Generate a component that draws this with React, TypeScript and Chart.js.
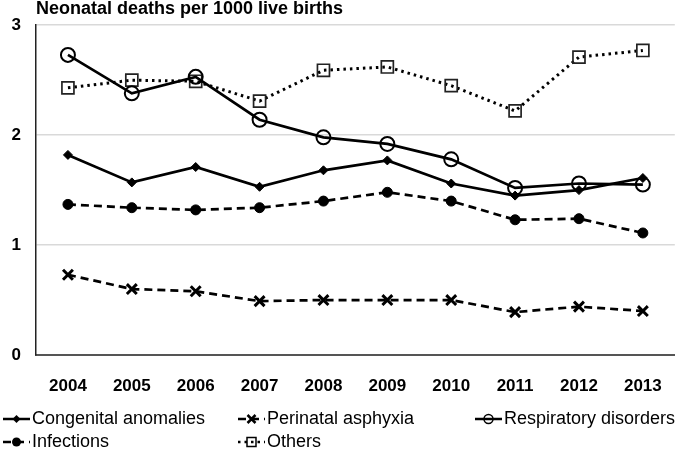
import { useEffect, useRef } from 'react';
import { Chart, registerables } from 'chart.js';

Chart.register(...registerables);

const years = ['2004', '2005', '2006', '2007', '2008', '2009', '2010', '2011', '2012', '2013'];
const congenitalAnomalies = [1.82, 1.57, 1.71, 1.53, 1.68, 1.77, 1.56, 1.45, 1.5, 1.61];
const perinatalAsphyxia = [0.73, 0.6, 0.58, 0.49, 0.5, 0.5, 0.5, 0.39, 0.44, 0.4];
const respiratoryDisorders = [2.73, 2.38, 2.53, 2.14, 1.98, 1.92, 1.78, 1.52, 1.56, 1.55];
const infections = [1.37, 1.34, 1.32, 1.34, 1.4, 1.48, 1.4, 1.23, 1.24, 1.11];
const others = [2.43, 2.5, 2.49, 2.31, 2.59, 2.62, 2.45, 2.22, 2.71, 2.77];
const yTicks = [0, 1, 2, 3];
const titleText = 'Neonatal deaths per 1000 live births';

const FONT = '"Liberation Sans", Arial, sans-serif';
const DASHED = [8, 5];
const DOTTED = [2.5, 4];

type Marker = 'diamond' | 'cross' | 'openCircle' | 'dot' | 'square';
const legendItems: { label: string; dash: number[]; marker: Marker; col: number; row: number }[] = [
  { label: 'Congenital anomalies', dash: [], marker: 'diamond', col: 0, row: 0 },
  { label: 'Perinatal asphyxia', dash: DASHED, marker: 'cross', col: 1, row: 0 },
  { label: 'Respiratory disorders', dash: [], marker: 'openCircle', col: 2, row: 0 },
  { label: 'Infections', dash: DASHED, marker: 'dot', col: 0, row: 1 },
  { label: 'Others', dash: DOTTED, marker: 'square', col: 1, row: 1 },
];
const legendCols = [3, 238, 475];
const legendRows = [419, 442];

function drawMarker(ctx: CanvasRenderingContext2D, x: number, y: number, m: Marker) {
  ctx.save();
  ctx.setLineDash([]);
  ctx.fillStyle = '#000';
  ctx.strokeStyle = '#000';
  ctx.beginPath();
  if (m === 'diamond') {
    ctx.moveTo(x, y - 4);
    ctx.lineTo(x + 4, y);
    ctx.lineTo(x, y + 4);
    ctx.lineTo(x - 4, y);
    ctx.closePath();
    ctx.fill();
  } else if (m === 'cross') {
    ctx.lineWidth = 2.5;
    ctx.moveTo(x - 4, y - 4);
    ctx.lineTo(x + 4, y + 4);
    ctx.moveTo(x + 4, y - 4);
    ctx.lineTo(x - 4, y + 4);
    ctx.stroke();
  } else if (m === 'openCircle') {
    ctx.lineWidth = 1.5;
    ctx.arc(x, y, 4.5, 0, Math.PI * 2);
    ctx.stroke();
  } else if (m === 'dot') {
    ctx.arc(x, y, 4.5, 0, Math.PI * 2);
    ctx.fill();
  } else {
    ctx.lineWidth = 1.5;
    ctx.rect(x - 4.5, y - 4.5, 9, 9);
    ctx.stroke();
  }
  ctx.restore();
}

const decorPlugin = {
  id: 'decor',
  afterDraw(chart: Chart) {
    const ctx = chart.ctx;
    ctx.save();
    ctx.fillStyle = '#000';
    ctx.textBaseline = 'middle';
    ctx.textAlign = 'left';
    ctx.font = `bold 18px ${FONT}`;
    ctx.fillText(titleText, 36, 9);

    ctx.font = `18px ${FONT}`;
    for (const it of legendItems) {
      const x = legendCols[it.col];
      const y = legendRows[it.row];
      ctx.save();
      ctx.strokeStyle = '#000';
      ctx.lineWidth = 2.5;
      ctx.setLineDash(it.dash);
      ctx.beginPath();
      ctx.moveTo(x, y);
      ctx.lineTo(x + 27, y);
      ctx.stroke();
      ctx.restore();
      drawMarker(ctx, x + 13.5, y, it.marker);
      ctx.fillText(it.label, x + 29, y);
    }
    ctx.restore();
  },
};

export default function App() {
  const ref = useRef<HTMLCanvasElement | null>(null);

  useEffect(() => {
    if (!ref.current) return;
    const common = {
      borderColor: '#000',
      backgroundColor: '#000',
      pointBorderColor: '#000',
      borderWidth: 2.7,
      tension: 0,
      fill: false,
    };
    const chart = new Chart(ref.current, {
      type: 'line',
      data: {
        labels: years,
        datasets: [
          {
            ...common,
            label: 'Congenital anomalies',
            data: congenitalAnomalies,
            pointStyle: 'rectRot',
            pointRadius: 4.5,
            pointBackgroundColor: '#000',
            pointBorderWidth: 1,
          },
          {
            ...common,
            label: 'Perinatal asphyxia',
            data: perinatalAsphyxia,
            borderDash: DASHED,
            pointStyle: 'crossRot',
            pointRadius: 7,
            pointBorderWidth: 3,
          },
          {
            ...common,
            label: 'Respiratory disorders',
            data: respiratoryDisorders,
            pointStyle: 'circle',
            pointRadius: 7,
            pointBackgroundColor: 'rgba(0,0,0,0)',
            pointBorderWidth: 2,
          },
          {
            ...common,
            label: 'Infections',
            data: infections,
            borderDash: DASHED,
            pointStyle: 'circle',
            pointRadius: 5,
            pointBackgroundColor: '#000',
            pointBorderWidth: 1,
          },
          {
            ...common,
            label: 'Others',
            data: others,
            borderWidth: 3,
            borderDash: DOTTED,
            pointStyle: 'rect',
            pointRadius: 8.5,
            pointBackgroundColor: 'rgba(0,0,0,0)',
            pointBorderWidth: 1.7,
            pointBorderColor: '#222',
          },
        ],
      },
      options: {
        responsive: false,
        animation: false,
        layout: { padding: { left: 0, right: 9, top: 22, bottom: 0 } },
        plugins: {
          legend: { display: false },
          title: { display: false },
          tooltip: { enabled: false },
        },
        scales: {
          x: {
            offset: true,
            grid: { display: false, drawTicks: false },
            border: { display: true, color: '#555', width: 2 },
            ticks: {
              color: '#000',
              font: { family: FONT, size: 17, weight: 'bold' },
              padding: 21,
              maxRotation: 0,
            },
            afterFit: (s: any) => {
              s.height = 94;
            },
          },
          y: {
            min: 0,
            max: 3,
            afterBuildTicks: (s: any) => {
              s.ticks = yTicks.map((v) => ({ value: v }));
            },
            grid: {
              color: (c: any) => (c.tick && c.tick.value === 0 ? 'rgba(0,0,0,0)' : '#d9d9d9'),
              lineWidth: 1.5,
              drawTicks: false,
            },
            border: { display: true, color: '#222', width: 1.5 },
            ticks: {
              color: '#000',
              font: { family: FONT, size: 17, weight: 'bold' },
              padding: 15,
            },
            afterFit: (s: any) => {
              s.width = 36;
            },
          },
        },
      },
      plugins: [decorPlugin],
    });
    return () => chart.destroy();
  }, []);

  return (
    <div style={{ position: 'fixed', left: 0, top: 0, width: 685, height: 449, background: '#fff' }}>
      <canvas ref={ref} width={685} height={449} style={{ display: 'block' }} />
    </div>
  );
}
